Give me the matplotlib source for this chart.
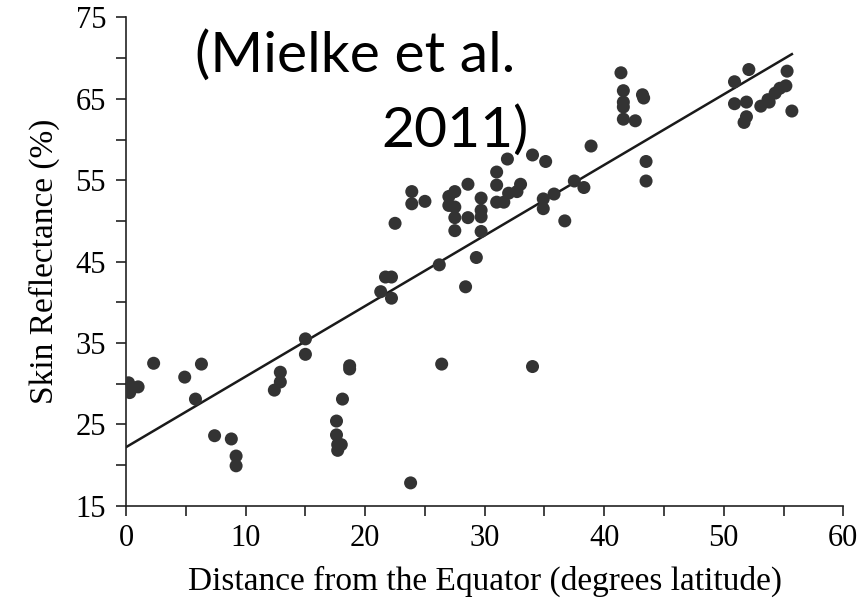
import numpy as np
import matplotlib
matplotlib.use("Agg")
import matplotlib.pyplot as plt
from matplotlib.ticker import MultipleLocator

# latitude (degrees from equator) and skin reflectance (%)
lat = [0.2, 0.3, 1.0, 2.3, 4.9, 6.3, 5.8, 7.4, 8.8, 9.2, 9.2,
       12.4, 12.9, 12.9, 15.0, 15.0, 18.7, 18.7, 18.1, 17.6, 17.6, 17.7, 18.0, 17.7,
       21.3, 21.7, 22.2, 22.2, 22.5, 23.9, 23.9, 25.0, 23.8, 26.4, 34.0, 26.2, 28.4, 29.3,
       27.0, 27.5, 27.0, 27.5, 27.5, 27.5, 28.6, 28.6, 29.7, 29.7, 29.7, 29.7,
       31.0, 31.0, 31.0, 31.6, 32.0, 32.7, 33.0, 31.9, 34.0, 35.1, 34.9, 34.9, 35.8,
       36.7, 37.5, 38.3, 38.9,
       41.4, 41.6, 41.6, 41.6, 41.6, 42.6, 43.2, 43.3, 43.5, 43.5,
       50.9, 52.1, 50.9, 51.9, 51.9, 51.7, 53.1, 53.7, 53.8, 54.3, 54.7, 55.2, 55.3, 55.7]
refl = [30.1, 28.9, 29.6, 32.5, 30.8, 32.4, 28.1, 23.6, 23.2, 21.1, 19.9,
        29.2, 30.2, 31.4, 35.5, 33.6, 32.2, 31.8, 28.1, 25.4, 23.7, 22.5, 22.5, 21.8,
        41.3, 43.1, 43.1, 40.5, 49.7, 53.6, 52.1, 52.4, 17.8, 32.4, 32.1, 44.6, 41.9, 45.5,
        53.0, 53.6, 51.9, 51.7, 50.4, 48.8, 54.5, 50.4, 52.8, 51.3, 50.5, 48.7,
        56.0, 54.4, 52.3, 52.3, 53.4, 53.6, 54.5, 57.6, 58.1, 57.3, 52.7, 51.5, 53.3,
        50.0, 54.9, 54.1, 59.2,
        68.2, 66.0, 64.6, 64.0, 62.5, 62.3, 65.5, 65.1, 57.3, 54.9,
        67.1, 68.6, 64.4, 64.6, 62.8, 62.1, 64.1, 64.9, 64.6, 65.7, 66.3, 66.6, 68.4, 63.5]

# fitted line (as drawn)
fit_intercept = 22.2
fit_slope = 0.867
fit_range = [0, 55.7]

fig = plt.figure(figsize=(8.64, 6.02), dpi=100)
ax = fig.add_axes([0.146, 0.160, 0.830, 0.811])

ax.scatter(lat, refl, s=88, color="#333333", edgecolors="none", zorder=3)
xx = np.array(fit_range)
ax.plot(xx, fit_intercept + fit_slope * xx, color="#1a1a1a", lw=1.8, zorder=2)

ax.set_xlim(0, 60)
ax.set_ylim(15, 75)
ax.xaxis.set_major_locator(MultipleLocator(10))
ax.xaxis.set_minor_locator(MultipleLocator(5))
ax.set_yticks([15, 25, 35, 45, 55, 65, 75])
ax.yaxis.set_minor_locator(MultipleLocator(5))

for s in ["top", "right"]:
    ax.spines[s].set_visible(False)
for s in ["left", "bottom"]:
    ax.spines[s].set_linewidth(1.2)
    ax.spines[s].set_color("#222222")

serif = "Liberation Serif"
ax.tick_params(which="both", direction="out", color="#222222", width=1.2, length=7.5)
ax.tick_params(which="major", labelsize=22)
for lbl in ax.get_xticklabels() + ax.get_yticklabels():
    lbl.set_fontfamily(serif)
ax.tick_params(axis="y", pad=7)
ax.tick_params(axis="x", pad=6)

ax.set_xlabel("Distance from the Equator (degrees latitude)", fontsize=24,
              fontfamily=serif, labelpad=9)
ax.set_ylabel("Skin Reflectance (%)", fontsize=24, fontfamily=serif, labelpad=11)

ax.text(0.096, 0.888, "(Mielke et al.", transform=ax.transAxes, fontsize=41,
        fontfamily="Lato", ha="left", va="baseline", color="black")
ax.text(0.562, 0.735, "2011)", transform=ax.transAxes, fontsize=41,
        fontfamily="Lato", ha="right", va="baseline", color="black")

fig.savefig("out.png", dpi=100)
